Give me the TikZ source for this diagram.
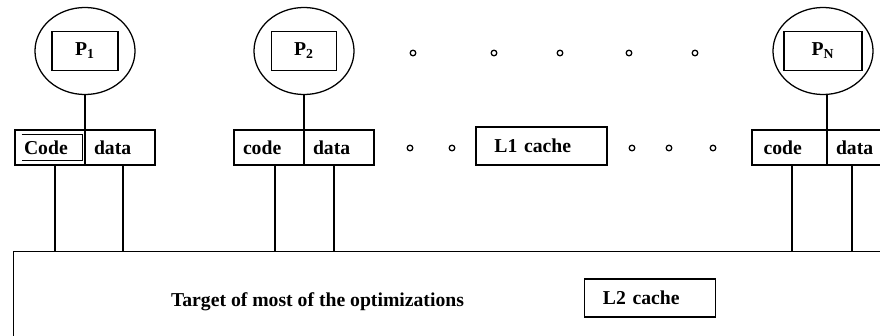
\documentclass[tikz,border=0pt]{standalone}
\usepackage{fontspec}
\setmainfont{Liberation Serif}
\usetikzlibrary{positioning,shapes.geometric}
\tikzset{
  proc/.style={draw,ellipse,line width=.9pt,minimum width=2.5cm,minimum height=2.175cm,inner sep=0pt},
  pname/.style={draw,line width=.9pt,minimum height=.96cm,inner sep=0pt,font=\fontsize{14}{16}\selectfont\bfseries},
  half/.style={draw,line width=.9pt,text width=1.3cm,inner xsep=.225cm,inner ysep=0pt,outer sep=0pt,minimum height=.875cm,align=left,font=\fontsize{14}{16}\selectfont\bfseries},
  cachebox/.style={draw,line width=.9pt,text width=2.35cm,inner xsep=.46cm,inner ysep=0pt,minimum height=.95cm,align=left,font=\fontsize{14}{16}\selectfont\bfseries},
  dotmark/.style={draw,circle,line width=.9pt,minimum size=.14cm,inner sep=0pt},
  wire/.style={line width=.9pt},
}

\begin{document}
\begin{tikzpicture}[x=0.025cm,y=-0.025cm]
  \useasboundingbox (0,0) rectangle (880,335);
  \clip (0,0) rectangle (880,335);
  % processors
  \foreach \n/\cx/\pw/\sub in {1/85/1.65/1,2/304/1.63/2,N/823/1.95/N}{
    \node[proc] (p\n) at (\cx,51) {};
    \node[pname,minimum width=\pw cm] (pn\n) at (\cx,51) {P\textsubscript{\sub}};
  }
  % split L1 boxes
  \node[half,anchor=north west] (c1) at (15,130) {Code};
  \node[half,right=0pt of c1] (d1) {data};
  \node[half,anchor=north west] (c2) at (234,130) {code};
  \node[half,right=0pt of c2] (d2) {data};
  \node[half,anchor=north west,minimum width=1.875cm] (cN) at (752,130) {code};
  \node[half,right=0pt of cN] (dN) {data};
  \node[minimum width=1.5cm,minimum height=.625cm,inner sep=0pt] (f1) at (52,147.5) {};
  \draw[line width=.5pt] (f1.north west) -- (f1.north east) -- (f1.south east) -- (f1.south west);
  \node[cachebox] (l1) at (541.5,146) {L1 cache};
  % shared memory
  \node[draw,line width=.9pt,anchor=north west,minimum width=22.5cm,minimum height=3cm] (mem) at (13,251) {};
  \node[font=\fontsize{14}{16}\selectfont\bfseries] (target) at (317.5,302) {Target of most of the optimizations};
  \node[cachebox] (l2) at (650,298) {L2 cache};
  % dots
  \foreach \x [count=\i] in {413,494,560,629,695}{\node[dotmark] (t\i) at (\x,53) {};}
  \foreach \x [count=\i] in {410,452,632,669,713}{\node[dotmark] (b\i) at (\x,148) {};}
  % wires
  \foreach \n in {1,2,N}{\draw[wire] (c\n.north east |- p\n.south) -- (c\n.north east);}
  \foreach \n/\dc/\dd in {1/5/3,2/6/-5,N/2.5/-10}{
    \draw[wire] ([xshift=\dc*0.025cm]c\n.south) -- ([xshift=\dc*0.025cm]c\n.south |- mem.north);
    \draw[wire] ([xshift=\dd*0.025cm]d\n.south) -- ([xshift=\dd*0.025cm]d\n.south |- mem.north);
  }
\end{tikzpicture}
\end{document}
